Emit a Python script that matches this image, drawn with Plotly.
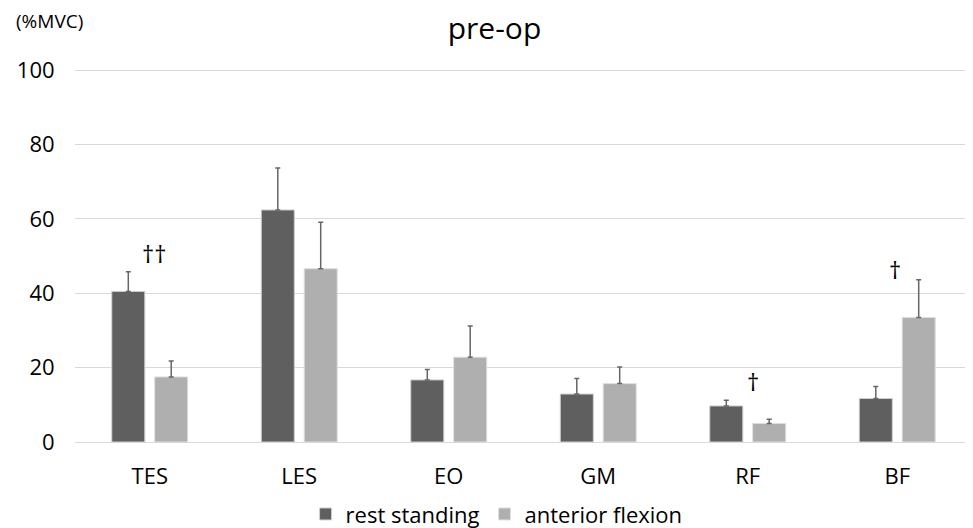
import plotly.graph_objects as go

categories = ["TES", "LES", "EO", "GM", "RF", "BF"]
rest_standing = [40.5, 62.4, 16.7, 12.9, 9.7, 11.7]
rest_standing_sd = [5.3, 11.3, 2.8, 4.2, 1.5, 3.2]
anterior_flexion = [17.5, 46.6, 22.8, 15.7, 5.0, 33.5]
anterior_flexion_sd = [4.3, 12.5, 8.4, 4.5, 1.1, 10.1]
sig_labels = ["††", "", "", "", "†", "†"]
sig_heights = [50.8, None, None, None, 16.3, 46.3]
y_ticks = [0, 20, 40, 60, 80, 100]

FONT = "Open Sans"
DARK = "#5f5f5f"
LIGHT = "#afafaf"

fig = go.Figure()
fig.add_trace(go.Bar(
    name="rest standing", x=categories, y=rest_standing,
    marker=dict(color=DARK, line=dict(color="#d0d0d0", width=1)),
    error_y=dict(type="data", array=rest_standing_sd, symmetric=False,
                 arrayminus=[0] * len(categories), color="#666666",
                 thickness=1.5, width=2.5),
))
fig.add_trace(go.Bar(
    name="anterior flexion", x=categories, y=anterior_flexion,
    marker=dict(color=LIGHT, line=dict(color="#e0e0e0", width=1)),
    error_y=dict(type="data", array=anterior_flexion_sd, symmetric=False,
                 arrayminus=[0] * len(categories), color="#666666",
                 thickness=1.5, width=2.5),
))

shifts = {"TES": 4, "RF": 5, "BF": -2}
for cat, lab, h in zip(categories, sig_labels, sig_heights):
    if lab:
        fig.add_annotation(x=cat, y=h, text=lab, showarrow=False,
                           xshift=shifts.get(cat, 0),
                           font=dict(family=FONT, size=24, color="#000000"))

fig.add_annotation(xref="paper", yref="paper", x=-0.068, y=1.129,
                   xanchor="left", yanchor="middle", text="(%MVC)",
                   showarrow=False, font=dict(family=FONT, size=19, color="#000000"))

# page is offset by the default 8px body margin, so figure coords are shifted;
# the figure is made taller than the window so the legend never pushes margins
fig.update_layout(
    width=973, height=545,
    margin=dict(l=67, r=9, t=61, b=111),
    paper_bgcolor="white", plot_bgcolor="white",
    title=dict(text="pre-op", x=0.5, xanchor="center", y=1 - 20.5 / 545, yanchor="middle",
               font=dict(family=FONT, size=30, color="#000000")),
    barmode="group", bargap=0.426, bargroupgap=0.23,
    font=dict(family=FONT, color="#000000"),
    showlegend=True,
    legend=dict(orientation="h", x=0.47, xanchor="center", y=-0.1935, yanchor="middle",
                font=dict(family=FONT, size=22, color="#000000"),
                itemwidth=30, traceorder="normal"),
    xaxis=dict(showgrid=False, showline=False, ticks="outside", ticklen=15,
               tickcolor="rgba(0,0,0,0)",
               tickfont=dict(family=FONT, size=22, color="#000000")),
    yaxis=dict(range=[0, 100.3], tickvals=y_ticks, showgrid=True,
               gridcolor="#d9d9d9", gridwidth=1.3, zeroline=True,
               zerolinecolor="#d9d9d9", zerolinewidth=1.3, showline=False,
               ticks="outside", ticklen=15, tickcolor="rgba(0,0,0,0)",
               tickfont=dict(family=FONT, size=22, color="#000000")),
)

fig.write_html("out.html")
